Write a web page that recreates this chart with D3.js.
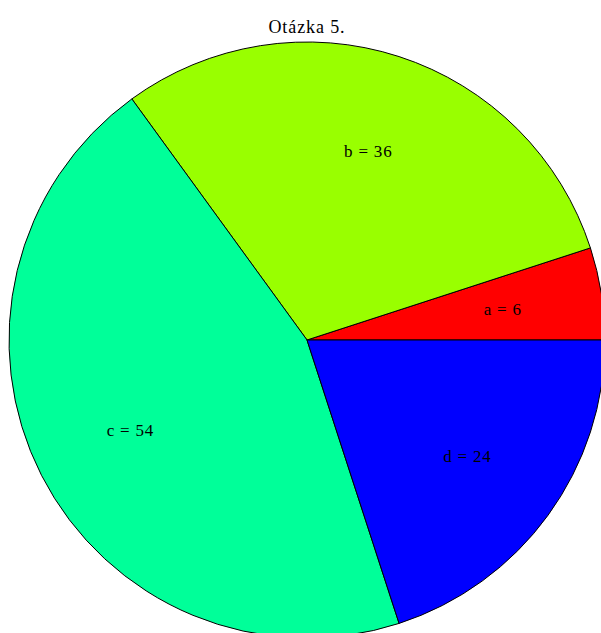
<!DOCTYPE html>
<html>
<head>
<meta charset="utf-8">
<script src="https://cdn.jsdelivr.net/npm/d3@7"></script>
<style>
  body { margin: 0; background: #fff; }
  text { font-family: "Liberation Serif", "Times New Roman", serif; }
</style>
</head>
<body>
<div class="chart"></div>
<script>
const width = 601;
const height = 633;
const cx = 307;
const cy = 340;
const radius = 298;

const categories = ["a", "b", "c", "d"];
const values = [6, 36, 54, 24];
const colors = ["#ff0000", "#99ff00", "#00ff99", "#0000ff"];
const title = "Otázka 5.";

const data = categories.map((c, i) => ({ name: c, value: values[i], color: colors[i] }));

const svg = d3.select(".chart")
  .append("svg")
  .attr("width", width)
  .attr("height", height);

// pie starts at 3 o'clock and runs counterclockwise
const pie = d3.pie()
  .sort(null)
  .value(d => d.value)
  .startAngle(Math.PI / 2)
  .endAngle(Math.PI / 2 - 2 * Math.PI);

const arc = d3.arc().innerRadius(0).outerRadius(radius);
const labelArc = d3.arc().innerRadius(radius * 0.665).outerRadius(radius * 0.665);

const g = svg.append("g")
  .attr("transform", "translate(" + cx + "," + cy + ")");

const slices = pie(data);

g.selectAll("path")
  .data(slices)
  .enter()
  .append("path")
  .attr("d", arc)
  .attr("fill", d => d.data.color)
  .attr("stroke", "#000")
  .attr("stroke-width", 1);

g.selectAll("text.label")
  .data(slices)
  .enter()
  .append("text")
  .attr("class", "label")
  .attr("transform", d => "translate(" + labelArc.centroid(d) + ")")
  .attr("text-anchor", "middle")
  .attr("dy", "0.35em")
  .attr("font-size", 17)
  .attr("letter-spacing", 0.8)
  .text(d => d.data.name + " = " + d.data.value);

svg.append("text")
  .attr("x", cx)
  .attr("y", 33)
  .attr("text-anchor", "middle")
  .attr("font-size", 18)
  .attr("letter-spacing", 0.9)
  .text(title);
</script>
</body>
</html>
